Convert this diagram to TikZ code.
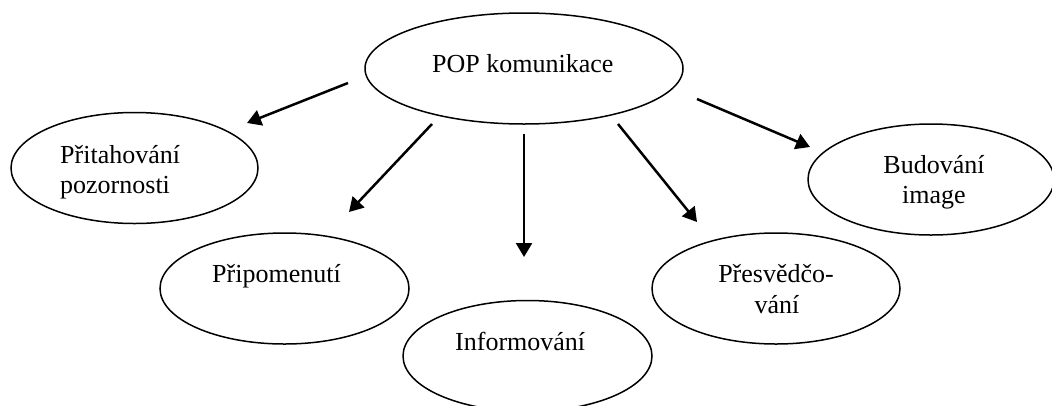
\documentclass[tikz,border=0pt]{standalone}
\usepackage{fontspec}
\setmainfont{Liberation Serif}
\usetikzlibrary{shapes.geometric,arrows.meta}
\begin{document}
\begin{tikzpicture}[x=1pt,y=-1pt,
  oval/.style={ellipse, draw=black, line width=1.5pt, inner sep=0pt,
    minimum width=#1, minimum height=111pt},
  oval/.default=248pt,
  lbl/.style={inner sep=0pt, anchor=base west, font=\fontsize{26}{30}\selectfont},
  clbl/.style={inner sep=0pt, anchor=base, font=\fontsize{26}{30}\selectfont},
  arr/.style={line width=2.5pt, -{Triangle[length=14pt,width=16pt]}}
]
\useasboundingbox (0,0) rectangle (1052,405);
\clip (0,0) rectangle (1052,405);
\fill[white] (0,0) rectangle (1052,405);

% ellipses
\node[oval=318pt] (pop) at (524,68.5) {};
\node[oval=247pt] (prit) at (134.5,168) {};
\node[oval=249pt] (prip) at (284.5,288.5) {};
\node[oval=249pt] (info) at (527.5,356) {};
\node[oval=248pt] (pres) at (776,288.5) {};
\node[oval=246pt] (bud) at (931,179.5) {};

% texts
\node[lbl] (tpop) at (432,72) {POP komunikace};
\node[lbl] (tprit1) at (60,163) {Přitahování};
\node[lbl] (tprit2) at (60,193) {pozornosti};
\node[lbl] (tprip) at (212,282) {Připomenutí};
\node[lbl] (tinfo) at (455,350) {Informování};
\node[clbl] (tpres1) at (776,282) {Přesvědčo-};
\node[clbl] (tpres2) at (777,313) {vání};
\node[clbl] (tbud1) at (934,173) {Budování};
\node[clbl] (tbud2) at (934,203) {image};

% arrow end points
\coordinate (s1) at (348,83);   \coordinate (e1) at (247,123);
\coordinate (s2) at (432,124);  \coordinate (e2) at (349,212);
\coordinate (s3) at (524,134);  \coordinate (e3) at (524,257);
\coordinate (s4) at (618,124);  \coordinate (e4) at (697,222);
\coordinate (s5) at (697,99);   \coordinate (e5) at (810,147);

\draw[arr] (s1) -- (e1);
\draw[arr] (s2) -- (e2);
\draw[arr] (s3) -- (e3);
\draw[arr] (s4) -- (e4);
\draw[arr] (s5) -- (e5);
\end{tikzpicture}
\end{document}
